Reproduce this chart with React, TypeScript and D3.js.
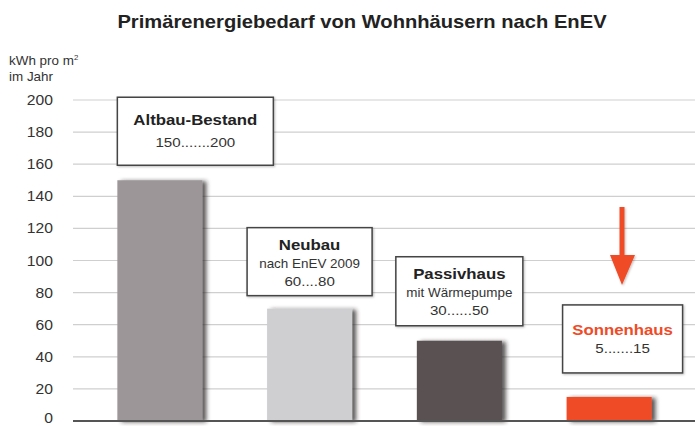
import * as d3 from 'd3'

const categories = ['Altbau-Bestand', 'Neubau', 'Passivhaus', 'Sonnenhaus']
const values = [150, 70, 50, 15]
const subtitles = ['', 'nach EnEV 2009', 'mit Wärmepumpe', '']
const ranges = ['150.......200', '60....80', '30......50', '5.......15']
const yTicks = [0, 20, 40, 60, 80, 100, 120, 140, 160, 180, 200]
const barColors = ['#9d9698', '#cfcfd1', '#5a5152', '#ef4b27']

const W = 695
const H = 426
const font = '"Liberation Sans", Arial, Helvetica, sans-serif'
const stretch = 1.12 // source text is slightly wide

// annotation box layout (left offset from band, width, top gap above bar, height)
const boxLayout = [
  { dx: 0, w: 156, gap: 15, h: 68 },
  { dx: -20, w: 125, gap: 13, h: 68 },
  { dx: -21, w: 127, gap: 15, h: 69 },
  { dx: -4, w: 120, gap: 24, h: 68 },
]

function Txt(props: any) {
  const { x, y, anchor = 'middle', size, bold, fill = '#333', dy = '0.36em', children } = props
  return (
    <text
      transform={`translate(${x},${y}) scale(${stretch},1)`}
      dy={dy}
      textAnchor={anchor}
      fontFamily={font}
      fontWeight={bold ? 'bold' : 'normal'}
      fontSize={size}
      fill={fill}
    >
      {children}
    </text>
  )
}

export default function App() {
  const x = d3.scaleBand<string>()
    .domain(categories)
    .range([85, 684])
    .paddingInner(0.432)
    .paddingOuter(0.216)
  const y = d3.scaleLinear().domain([0, 200]).range([421, 100])
  const bw = x.bandwidth()

  const arrowX = 622
  const arrowPath = d3.path()
  arrowPath.moveTo(arrowX - 2.5, 207)
  arrowPath.lineTo(arrowX + 2.5, 207)
  arrowPath.lineTo(arrowX + 2.5, 255)
  arrowPath.lineTo(arrowX + 13, 255)
  arrowPath.lineTo(arrowX, 285)
  arrowPath.lineTo(arrowX - 12, 255)
  arrowPath.lineTo(arrowX - 2.5, 255)
  arrowPath.closePath()

  return (
    <svg width={W} height={H} style={{ position: 'absolute', left: 0, top: 0, background: '#fff' }}>
      <defs>
        <filter id="barShadow" x="-20%" y="-10%" width="150%" height="130%">
          <feDropShadow dx="4" dy="1" stdDeviation="2" floodColor="#2a2222" floodOpacity="0.75" />
        </filter>
        <filter id="boxShadow" x="-10%" y="-10%" width="130%" height="130%">
          <feDropShadow dx="1" dy="1" stdDeviation="1" floodColor="#000" floodOpacity="0.25" />
        </filter>
      </defs>
      <rect width={W} height={H} fill="#fff" />

      <Txt x={362} y={28} size={18} bold fill="#222" dy="0">
        Primärenergiebedarf von Wohnhäusern nach EnEV
      </Txt>

      <Txt x={9} y={65} size={12} anchor="start" dy="0">
        kWh pro m<tspan fontSize={7} dy={-5}>2</tspan>
      </Txt>
      <Txt x={9} y={81} size={12} anchor="start" dy="0">im Jahr</Txt>

      {yTicks.map((t) => (
        <g key={t}>
          {t > 0 && <line x1={73} x2={W} y1={y(t)} y2={y(t)} stroke="#cfcfcf" strokeWidth={1.2} />}
          <Txt x={53} y={t === 0 ? y(t) - 3.5 : y(t)} anchor="end" size={14}>
            {t}
          </Txt>
        </g>
      ))}

      {categories.map((c, i) => (
        <rect
          key={c}
          x={x(c)}
          y={y(values[i])}
          width={bw}
          height={y(0) - y(values[i])}
          fill={barColors[i]}
          filter="url(#barShadow)"
        />
      ))}

      <line x1={73} x2={W} y1={y(0)} y2={y(0)} stroke="#555" strokeWidth={2} />

      {categories.map((c, i) => {
        const b = boxLayout[i]
        const bx = (x(c) ?? 0) + b.dx
        const by = y(values[i]) - b.gap - b.h
        const cx = bx + b.w / 2
        const hasSub = subtitles[i] !== ''
        const isSun = i === 3
        return (
          <g key={c}>
            <rect x={bx} y={by} width={b.w} height={b.h} fill="#fff" stroke="#444" strokeWidth={1.5} filter="url(#boxShadow)" />
            <Txt x={cx} y={by + (hasSub ? 17 : isSun ? 25 : 22)} size={15} bold fill={isSun ? '#ef4b27' : '#222'}>
              {c}
            </Txt>
            {hasSub && (
              <Txt x={cx} y={by + 36} size={12}>
                {subtitles[i]}
              </Txt>
            )}
            <Txt x={cx} y={by + (hasSub ? 53 : isSun ? 43 : 45)} size={13.5}>
              {ranges[i]}
            </Txt>
          </g>
        )
      })}

      <path d={arrowPath.toString()} fill="#ef4b27" filter="url(#boxShadow)" />
    </svg>
  )
}
